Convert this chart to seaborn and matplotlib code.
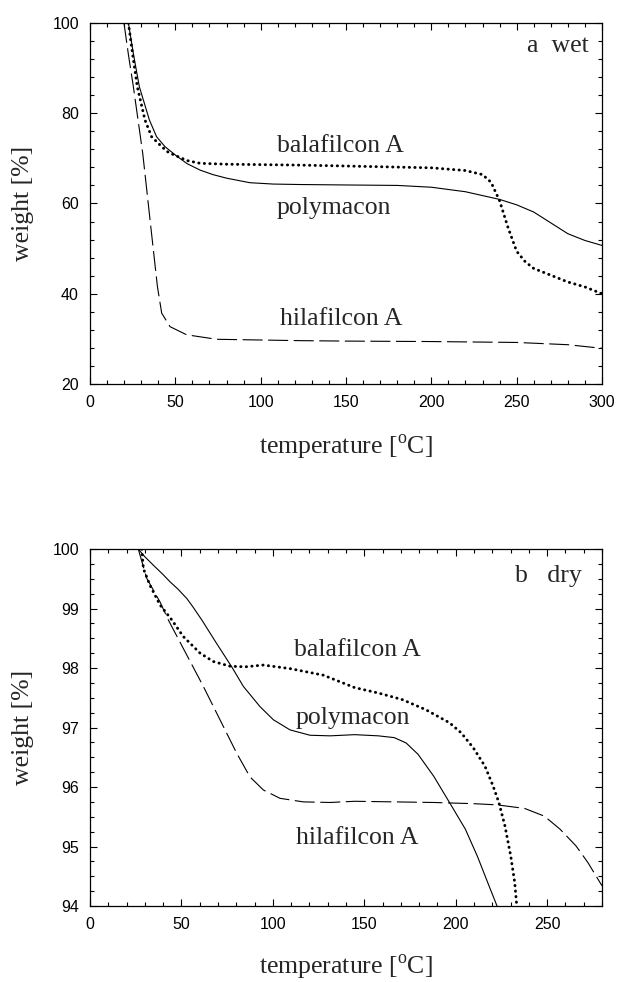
import numpy as np
import pandas as pd
import matplotlib
matplotlib.use("Agg")
import matplotlib.pyplot as plt
import seaborn as sns
from matplotlib.ticker import MultipleLocator

# ---------------- data: panel a (wet) ----------------
wet_poly_x = [22.5, 25.5, 28.9, 34.8, 39, 43.9, 50.8, 57, 64.5, 72, 80.1, 93.7, 107.4, 123, 150, 180, 200, 220, 240, 250, 260, 270, 280, 290, 300]
wet_poly_y = [100, 93, 85.9, 78.5, 74.8, 72.6, 70.5, 68.8, 67.4, 66.4, 65.6, 64.6, 64.3, 64.2, 64.1, 64.0, 63.6, 62.6, 60.9, 59.7, 58.1, 55.7, 53.3, 51.8, 50.7]

wet_bala_x = [22.5, 25, 27.7, 32.2, 36.1, 42, 46, 50.8, 57, 64.5, 80, 123, 150, 200, 220, 230, 235, 240, 245, 250, 255, 260, 270, 280, 290, 300]
wet_bala_y = [100, 93, 85.9, 78.5, 74.8, 72.6, 71.3, 70.5, 69.5, 68.9, 68.7, 68.5, 68.3, 67.9, 67.3, 66.4, 64.7, 60.6, 54.6, 49.4, 47.1, 45.6, 44.1, 42.6, 41.5, 40.0]

wet_hila_x = [19.9, 22.5, 25.4, 30.9, 35.2, 39.5, 42, 46.9, 56.6, 74.2, 123, 150, 200, 250, 280, 300]
wet_hila_y = [100, 93, 85.9, 71.1, 56.3, 41.6, 35.7, 32.7, 30.9, 29.9, 29.6, 29.5, 29.4, 29.2, 28.7, 27.9]

# ---------------- data: panel b (dry) ----------------
dry_poly_x = [26.4, 30, 34.6, 40, 43.75, 48, 52.9, 56, 61.1, 69.3, 77.5, 83.9, 93, 100.3, 109.4, 120.3, 131.3, 144.8, 157.7, 166.4, 172.9, 179.4, 188, 196.6, 205.3, 211.8, 218.2, 222.6]
dry_poly_y = [100, 99.87, 99.73, 99.57, 99.45, 99.33, 99.17, 99.04, 98.81, 98.41, 98.02, 97.69, 97.35, 97.13, 96.96, 96.87, 96.86, 96.88, 96.86, 96.83, 96.74, 96.55, 96.18, 95.74, 95.29, 94.84, 94.34, 94.0]

dry_bala_x = [28.3, 29.2, 32.8, 38.3, 44.7, 51, 60.2, 67.4, 76.6, 85, 94.8, 109.4, 127.6, 144.8, 157.7, 170.7, 183.6, 196.6, 203, 209.6, 216, 220.4, 223.6, 226.9, 230.1, 232.3, 233.4]
dry_bala_y = [100, 99.67, 99.39, 99.06, 98.81, 98.53, 98.25, 98.11, 98.03, 98.02, 98.05, 97.99, 97.88, 97.67, 97.58, 97.47, 97.30, 97.08, 96.91, 96.66, 96.35, 96.02, 95.74, 95.35, 94.84, 94.39, 94.0]

dry_hila_x = [26.4, 31, 38.3, 42.8, 52.9, 62, 71.1, 80.2, 87.5, 94.8, 103.9, 116.6, 131.3, 144.8, 166.4, 188, 209.6, 222.6, 237.7, 248.5, 257.1, 265.8, 272.3, 280]
dry_hila_y = [100, 99.51, 99.11, 98.81, 98.22, 97.69, 97.13, 96.57, 96.17, 95.95, 95.81, 95.75, 95.74, 95.76, 95.75, 95.74, 95.72, 95.70, 95.64, 95.51, 95.29, 95.01, 94.73, 94.34]

series_names = ["polymacon", "balafilcon A", "hilafilcon A"]
wet_xticks = [0, 50, 100, 150, 200, 250, 300]
wet_yticks = [20, 40, 60, 80, 100]
dry_xticks = [0, 50, 100, 150, 200, 250]
dry_yticks = [94, 95, 96, 97, 98, 99, 100]

sns.set_style("ticks")
plt.rcParams['font.family'] = ['Liberation Sans', 'DejaVu Sans']
plt.rcParams['mathtext.fontset'] = 'custom'
plt.rcParams['mathtext.rm'] = 'Liberation Serif'

SERIF = ['Liberation Serif', 'DejaVu Serif']
FS = 18.5

def make_df(xs, ys):
    frames = []
    for name, x, y in zip(series_names, xs, ys):
        frames.append(pd.DataFrame({"temperature": x, "weight": y, "sample": name}))
    return pd.concat(frames, ignore_index=True)

styles = {
    "polymacon": dict(color="black", lw=0.8, ls="-"),
    "balafilcon A": dict(color="black", lw=2.1, ls=(0, (0.1, 1.8)), dash_capstyle="round"),
    "hilafilcon A": dict(color="black", lw=0.8, ls=(0, (18, 5))),
}

fig = plt.figure(figsize=(6.19, 9.82), dpi=100)
ax1 = fig.add_axes([0.1454, 0.6090, 0.8271, 0.3676])
ax2 = fig.add_axes([0.1454, 0.0774, 0.8271, 0.3635])

df_wet = make_df([wet_poly_x, wet_bala_x, wet_hila_x], [wet_poly_y, wet_bala_y, wet_hila_y])
df_dry = make_df([dry_poly_x, dry_bala_x, dry_hila_x], [dry_poly_y, dry_bala_y, dry_hila_y])

for ax, df in [(ax1, df_wet), (ax2, df_dry)]:
    for name in series_names:
        sub = df[df["sample"] == name]
        st = styles[name]
        sns.lineplot(data=sub, x="temperature", y="weight", ax=ax, sort=False,
                     estimator=None, color=st["color"], linewidth=st["lw"],
                     legend=False)
        line = ax.lines[-1]
        line.set_linestyle(st["ls"])
        if "dash_capstyle" in st:
            line.set_dash_capstyle(st["dash_capstyle"])
        line.set_solid_joinstyle("round")

ax1.set_xlim(0, 300)
ax1.set_ylim(20, 100)
ax1.set_xticks(wet_xticks)
ax1.set_yticks(wet_yticks)
ax1.xaxis.set_minor_locator(MultipleLocator(10))
ax1.yaxis.set_minor_locator(MultipleLocator(4))

ax2.set_xlim(0, 280)
ax2.set_ylim(94, 100)
ax2.set_xticks(dry_xticks)
ax2.set_yticks(dry_yticks)
ax2.xaxis.set_minor_locator(MultipleLocator(10))
ax2.yaxis.set_minor_locator(MultipleLocator(0.25))

for ax, lab_y in [(ax1, -0.136), (ax2, -0.132)]:
    for sp in ax.spines.values():
        sp.set_visible(True)
        sp.set_linewidth(0.9)
        sp.set_color("black")
    ax.tick_params(which="both", direction="in", top=True, right=True,
                   colors="black", labelsize=11.5, width=0.8)
    ax.tick_params(which="major", length=5, pad=8)
    ax.tick_params(which="minor", length=3)
    ax.set_xlabel(r"temperature [$^{\rm o}$C]", fontsize=FS, family=SERIF)
    ax.set_ylabel("weight [%]", fontsize=FS, family=SERIF)
    ax.xaxis.set_label_coords(0.5, lab_y)
    ax.yaxis.set_label_coords(-0.11, 0.5)
    ax.grid(False)

# annotations panel a
ax1.text(292, 94.8, "a  wet", ha="right", va="center", fontsize=FS, family=SERIF)
ax1.text(147, 72.7, "balafilcon A", ha="center", va="center", fontsize=FS, family=SERIF)
ax1.text(143, 59.1, "polymacon", ha="center", va="center", fontsize=FS, family=SERIF)
ax1.text(147, 34.4, "hilafilcon A", ha="center", va="center", fontsize=FS, family=SERIF)

# annotations panel b
ax2.text(269, 99.54, "b   dry", ha="right", va="center", fontsize=FS, family=SERIF)
ax2.text(146, 98.31, "balafilcon A", ha="center", va="center", fontsize=FS, family=SERIF)
ax2.text(143.8, 97.16, "polymacon", ha="center", va="center", fontsize=FS, family=SERIF)
ax2.text(146.4, 95.15, "hilafilcon A", ha="center", va="center", fontsize=FS, family=SERIF)

fig.savefig("out.png", dpi=100)
